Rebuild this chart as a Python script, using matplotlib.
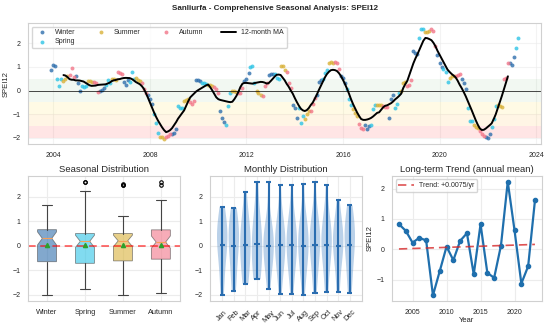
import numpy as np
import pandas as pd
import matplotlib
matplotlib.use("Agg")
import matplotlib.pyplot as plt
from matplotlib.ticker import MultipleLocator
import seaborn as sns

# monthly SPEI12, Dec 2003 .. Apr 2023
spei12 = [0.87,
    1.10, 1.02, 0.48, 0.18, 0.50, 0.42, 0.50, 0.60, 0.65, 0.95, 0.58, 0.62,   # 2004
    0.30, 0.00, 0.20, 0.15, 0.18, 0.42, 0.42, 0.38, 0.38, 0.32, -0.08, -0.02,  # 2005
    0.02, 0.10, 0.25, 0.45, 0.30, 0.48, 0.50, 0.45, 0.78, 0.76, 0.70, 0.38,   # 2006
    0.22, 0.45, 0.35, 0.78, 0.50, 0.55, 0.45, 0.40, 0.32, 0.05, -0.12, -0.17,  # 2007
    -0.35, -0.55, -1.00, -1.37, -1.78, -1.98, -1.97, -2.03, -1.95, -1.90, -1.85, -1.83,  # 2008
    -1.80, -1.62, -0.65, -0.72, -0.75, -0.45, -0.40, -0.35, -0.50, -0.55, -0.45, 0.46,  # 2009
    0.46, 0.42, 0.32, 0.30, 0.28, 0.25, 0.22, 0.20, 0.15, 0.05, -0.10, -0.86,  # 2010
    -1.14, -1.32, -1.46, -0.65, -0.10, 0.00, 0.00, -0.05, -0.10, -0.10, 0.10, 0.42,  # 2011
    0.50, 0.76, 1.00, 1.04, 0.30, 0.00, -0.12, -0.18, -0.22, 0.18, 0.30, 0.65,  # 2012
    0.68, 0.70, 0.72, 0.55, 0.50, 1.02, 1.05, 0.85, 0.78, 0.30, 0.10, -0.63,  # 2013
    -0.72, -1.14, -0.72, -1.35, -1.07, -1.20, -1.00, -0.85, -0.86, -0.55, -0.30, -0.20,  # 2014
    0.35, 0.45, 0.50, 0.74, 0.87, 1.15, 1.20, 1.18, 1.20, 1.15, 0.90, 0.62,   # 2015
    0.55, 0.30, 0.05, -0.35, -0.60, -0.80, -0.95, -1.07, -1.40, -1.58, -1.62, -1.46,  # 2016
    -1.62, -1.50, -1.46, -0.80, -0.62, -0.60, -0.60, -0.62, -0.65, -0.68, -0.70, -1.18,  # 2017
    -0.37, -0.17, -0.72, -0.55, -0.10, 0.00, 0.30, 0.35, 0.20, 0.25, 0.45, 1.65,  # 2018
    1.60, 1.55, 2.20, 2.60, 2.62, 2.48, 2.47, 2.52, 2.60, 2.50, 1.88, 1.50,   # 2019
    1.15, 1.00, 0.90, 0.80, 0.38, 0.55, 0.60, 0.60, 0.62, 0.65, 0.70, 0.50,   # 2020
    0.30, 0.05, -0.72, -1.28, -1.30, -1.46, -1.56, -1.60, -1.70, -1.83, -1.90, -1.95,  # 2021
    -2.00, -1.85, -1.55, -1.20, -0.65, -0.62, -0.65, -0.70, 0.50, 0.53, 1.15, 1.15,  # 2022
    1.08, 1.43, 1.78, 2.22]  # 2023

years = list(range(2003, 2024))
annual_mean = [0.83, 0.61, 0.22, 0.38, 0.29, -1.52, -0.72, 0.09, -0.36, 0.28, 0.53,
               -0.83, 0.83, -0.78, -0.94, 0.12, 2.23, 0.62, -1.13, -0.56, 1.61]

seasons = ["Winter", "Spring", "Summer", "Autumn"]
season_colors = {"Winter": "#2f6fad", "Spring": "#2ec4e6", "Summer": "#d9b23a", "Autumn": "#f27689"}
month_names = ["Jan", "Feb", "Mar", "Apr", "May", "Jun", "Jul", "Aug", "Sep", "Oct", "Nov", "Dec"]

dates = pd.date_range("2003-12-01", periods=len(spei12), freq="MS")
df = pd.DataFrame({"spei": spei12}, index=dates)
df["month"] = df.index.month
df["season"] = df["month"].map(lambda m: "Winter" if m in (12, 1, 2) else
                               "Spring" if m in (3, 4, 5) else
                               "Summer" if m in (6, 7, 8) else "Autumn")
ma = df["spei"].rolling(12, center=True).mean()

sns.set_style("whitegrid")
plt.rcParams["font.family"] = ["Liberation Sans", "DejaVu Sans"]
plt.rcParams["axes.edgecolor"] = "#d0d0d0"
plt.rcParams["grid.color"] = "#ececec"
plt.rcParams["xtick.labelsize"] = 5
plt.rcParams["ytick.labelsize"] = 5
plt.rcParams["xtick.major.pad"] = 2
plt.rcParams["ytick.major.pad"] = 2

fig = plt.figure(figsize=(5.5, 3.29), dpi=100)
fig.suptitle("Sanliurfa - Comprehensive Seasonal Analysis: SPEI12", fontsize=5.8,
             fontweight="bold", y=0.985)

# ---- top: time series
ax = fig.add_axes([0.051, 0.562, 0.933, 0.368])
ax.axhspan(-0.5, 0.5, color="green", alpha=0.05, lw=0)
ax.axhspan(-1.0, -0.5, color="gold", alpha=0.1, lw=0)
ax.axhspan(-1.5, -1.0, color="orange", alpha=0.1, lw=0)
ax.axhspan(-2.0, -1.5, color="red", alpha=0.1, lw=0)
for s in seasons:
    d = df[df["season"] == s]
    ax.scatter(d.index, d["spei"], s=8, color=season_colors[s], alpha=0.8, lw=0, label=s)
ax.plot(ma.index, ma.values, color="black", lw=1.4, label="12-month MA")
ax.axhline(0, color="black", lw=0.7, alpha=0.7)
ax.set_ylabel("SPEI12", fontsize=5.5, labelpad=2)
ax.legend(loc="upper left", ncol=4, fontsize=5, frameon=True, markerscale=1.0,
          handlelength=2.2, columnspacing=2.5, borderpad=0.4, labelspacing=0.3)
ax.grid(True, alpha=0.6)

# ---- bottom left: seasonal boxplots
axb = fig.add_axes([0.051, 0.085, 0.276, 0.38])
box_data = [df.loc[df["season"] == s, "spei"].values for s in seasons]
bp = axb.boxplot(box_data, notch=True, patch_artist=True, showmeans=True, widths=0.5,
                 tick_labels=seasons,
                 flierprops=dict(marker="o", markersize=2.5, markerfacecolor="none",
                                 markeredgecolor="black", markeredgewidth=0.8),
                 meanprops=dict(marker="^", markerfacecolor="#2ca02c", markeredgecolor="#2ca02c",
                                markersize=3),
                 medianprops=dict(color="#f5a05a", lw=0.8),
                 whiskerprops=dict(color="#444444", lw=0.8),
                 capprops=dict(color="#444444", lw=0.8),
                 boxprops=dict(edgecolor="#444444", lw=0.6))
for patch, s in zip(bp["boxes"], seasons):
    patch.set_facecolor(season_colors[s])
    patch.set_alpha(0.6)
axb.axhline(0, color="red", ls="--", lw=1.1, alpha=0.7, dashes=(5, 3))
axb.tick_params(axis="x", labelsize=5.3)
axb.set_title("Seasonal Distribution", fontsize=6.8, pad=3)

# ---- bottom middle: monthly violins
axv = fig.add_axes([0.382, 0.085, 0.276, 0.38])
violin_data = [df.loc[df["month"] == m, "spei"].values for m in range(1, 13)]
vp = axv.violinplot(violin_data, positions=range(1, 13), widths=0.9, showmeans=True,
                    bw_method=0.8)
for body in vp["bodies"]:
    body.set_facecolor("#3a7cc0")
    body.set_alpha(0.35)
    body.set_edgecolor("none")
for k in ("cmeans", "cmins", "cmaxes", "cbars"):
    vp[k].set_color("#2a6db0")
    vp[k].set_linewidth(1.5)
axv.set_xticks(range(1, 13))
axv.set_xticklabels(month_names, rotation=45)
axv.tick_params(axis="x", labelsize=5.3)
axv.set_title("Monthly Distribution", fontsize=6.8, pad=3)

# ---- bottom right: annual mean trend
axt = fig.add_axes([0.713, 0.085, 0.272, 0.38])
axt.plot(years, annual_mean, "o-", color="#1f6fad", lw=1.6, ms=3)
slope, intercept = np.polyfit(years, annual_mean, 1)
axt.plot(years, np.polyval([slope, intercept], years), "--", color="#d62728", lw=1.2,
         alpha=0.8, dashes=(5, 3), label=f"Trend: {slope:+.4f}/yr")
axt.yaxis.set_major_locator(MultipleLocator(1))
axt.legend(loc="upper left", fontsize=5, frameon=True, handlelength=2.2, borderpad=0.4)
axt.set_title("Long-term Trend (annual mean)", fontsize=6.8, pad=3)
axt.set_xlabel("Year", fontsize=5.5, labelpad=1)
axt.set_ylabel("SPEI12", fontsize=5.5, labelpad=2)

fig.savefig("out.png", dpi=100)
